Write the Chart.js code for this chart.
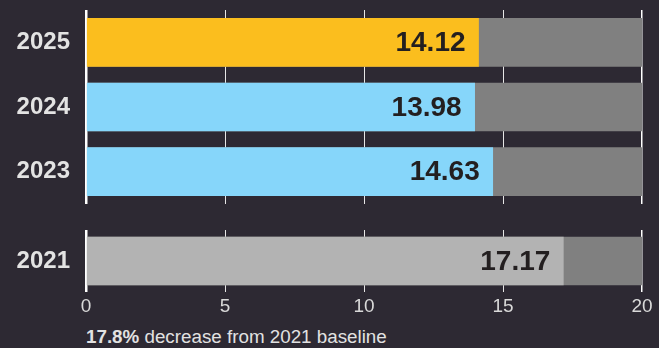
<!DOCTYPE html>
<html lang="en">

<head>
  <meta charset="UTF-8">
  <title>Average cost per unit</title>
  <script src="https://cdn.jsdelivr.net/npm/chart.js"></script>
  <style>
    body {
      margin: 0;
      background: #2d2933;
      width: 659px;
      height: 348px;
      overflow: hidden;
      position: relative;
      font-family: "Liberation Sans", Arial, sans-serif;
    }
    #topo { position: absolute; left: 0; top: 0; }
    #base { position: absolute; left: 0; top: 204px; }
    .nota {
      position: absolute;
      left: 86px;
      top: 327px;
      font-size: 18.8px;
      line-height: 20px;
      color: #e2e2e2;
      white-space: nowrap;
    }
  </style>
</head>

<body>
  <canvas id="topo" width="659" height="204"></canvas>
  <canvas id="base" width="659" height="116"></canvas>
  <div class="nota"><b>17.8%</b> decrease from 2021 baseline</div>

<script>
  // anos recentes (painel de cima)
  var anosTopo = ['2025', '2024', '2023'];
  var valoresTopo = [14.12, 13.98, 14.63];
  var coresTopo = ['#fbbe1e', '#86d6fa', '#86d6fa'];
  var trilhaTopo = [20, 20, 20];

  // ano base (painel de baixo)
  var anosBase = ['2021'];
  var valoresBase = [17.17];
  var coresBase = ['#b3b3b3'];
  var trilhaBase = [20];

  var eixoX = [0, 5, 10, 15, 20];

  // escreve o valor dentro da barra, encostado no fim
  var rotuloValor = {
    id: 'rotuloValor',
    afterDatasetsDraw(chart) {
      var ctx = chart.ctx;
      var meta = chart.getDatasetMeta(0);
      ctx.save();
      ctx.font = 'bold 28px "Liberation Sans", Arial, sans-serif';
      ctx.fillStyle = '#231f20';
      ctx.textAlign = 'right';
      ctx.textBaseline = 'middle';
      meta.data.forEach(function (barra, i) {
        var v = chart.data.datasets[0].data[i];
        ctx.fillText(v.toFixed(2), barra.x - 13, barra.y + 1);
      });
      ctx.restore();
    }
  };

  function criaGrafico(id, anos, valores, cores, trilha, mostraTicks, topo) {
    var ctx = document.getElementById(id).getContext('2d');

    var config = {
      type: 'bar',
      data: {
        labels: anos,
        datasets: [
          {
            label: 'valor',
            data: valores,
            backgroundColor: cores,
            barThickness: 48,
            grouped: false,
            order: 1
          },
          {
            label: 'trilha',
            data: trilha,
            backgroundColor: '#808080',
            barThickness: 48,
            grouped: false,
            order: 2
          }
        ]
      },
      options: {
        indexAxis: 'y',
        responsive: false,
        animation: false,
        layout: { padding: { top: topo, bottom: 0, left: 0, right: 17 } },
        plugins: {
          legend: { display: false },
          tooltip: { enabled: false }
        },
        scales: {
          x: {
            min: 0,
            max: 20,
            afterBuildTicks(scale) {
              scale.ticks = eixoX.map(v => ({ value: v }));
            },
            afterFit(scale) {
              scale.height = mostraTicks ? 28 : 0;
              scale.paddingLeft = 0;
              scale.paddingRight = 0;
            },
            border: { display: false },
            grid: {
              drawTicks: false,
              color: c => (c.tick && (c.tick.value === 0 || c.tick.value === 20)) ? '#ffffff' : '#e6e6e6',
              lineWidth: c => (c.tick && c.tick.value === 0) ? 2.5 : (c.tick && c.tick.value === 20 ? 1.5 : 1)
            },
            ticks: {
              display: mostraTicks,
              padding: 3,
              color: '#d9d9d9',
              font: { family: '"Liberation Sans", Arial, sans-serif', size: 19 }
            }
          },
          y: {
            afterFit(scale) {
              // largura fixa para os dois paineis alinharem
              scale.width = 86;
              scale.paddingTop = 0;
              scale.paddingBottom = 0;
            },
            border: { display: false },
            grid: { display: false, drawTicks: false },
            ticks: {
              padding: 16,
              color: '#e3e3e3',
              font: { family: '"Liberation Sans", Arial, sans-serif', size: 24, weight: 'bold' }
            }
          }
        }
      },
      plugins: [rotuloValor]
    };

    return new Chart(ctx, config);
  }

  criaGrafico('topo', anosTopo, valoresTopo, coresTopo, trilhaTopo, false, 10);
  criaGrafico('base', anosBase, valoresBase, coresBase, trilhaBase, true, 26);
</script>
</body>

</html>
